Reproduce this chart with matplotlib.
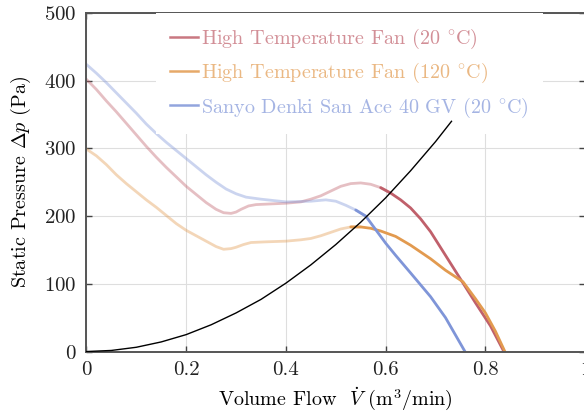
import matplotlib

matplotlib.use("Agg")
import matplotlib.pyplot as plt
import numpy as np

# Fan curves: volume flow (m^3/min) vs static pressure (Pa)
hot20_flow = [0.00, 0.02, 0.04, 0.06, 0.08, 0.10, 0.12, 0.14, 0.16, 0.18, 0.20, 0.22, 0.24,
              0.26, 0.275, 0.29, 0.30, 0.31, 0.325, 0.34, 0.37, 0.40, 0.43, 0.45, 0.47, 0.49,
              0.51, 0.53, 0.55, 0.57, 0.59, 0.61, 0.63, 0.65, 0.67, 0.69, 0.72, 0.75, 0.78,
              0.81, 0.837]
hot20_dp = [402, 387, 370, 354, 337, 320, 303, 287, 272, 258, 244, 232, 220,
            210, 205, 204, 206, 210, 215, 217, 218, 219, 221, 225, 230, 237,
            244, 248, 249, 247, 242, 234, 224, 212, 196, 177, 142, 107, 72,
            38, 0]

hot120_flow = [0.00, 0.02, 0.04, 0.06, 0.08, 0.10, 0.12, 0.14, 0.16, 0.18, 0.20, 0.22, 0.24,
               0.26, 0.275, 0.29, 0.30, 0.315, 0.33, 0.36, 0.40, 0.43, 0.45, 0.47, 0.49, 0.51,
               0.53, 0.55, 0.57, 0.59, 0.62, 0.65, 0.69, 0.72, 0.755, 0.78, 0.80, 0.82, 0.839]
hot120_dp = [299, 289, 276, 261, 248, 236, 224, 213, 201, 189, 179, 171, 163,
             155, 151, 152, 154, 158, 161, 162, 163, 165, 167, 171, 176, 181,
             184, 184, 182, 178, 170, 157, 137, 120, 103, 78, 57, 30, 0]

sanyo_flow = [0.00, 0.02, 0.04, 0.06, 0.08, 0.10, 0.12, 0.14, 0.16, 0.18, 0.20, 0.22, 0.24,
              0.26, 0.28, 0.30, 0.32, 0.35, 0.40, 0.45, 0.48, 0.50, 0.52, 0.54, 0.56, 0.58,
              0.60, 0.62, 0.65, 0.69, 0.72, 0.759]
sanyo_dp = [424, 411, 397, 382, 367, 352, 336, 322, 309, 297, 285, 273, 261,
            250, 240, 233, 228, 225, 221, 222, 224, 222, 216, 209, 200, 180,
            160, 142, 116, 81, 50, 0]

# system resistance curve
system_flow = [0.00, 0.05, 0.10, 0.15, 0.20, 0.25, 0.30, 0.35, 0.40, 0.45, 0.50, 0.55,
               0.60, 0.65, 0.70, 0.732]
system_dp = [0, 1.6, 6.3, 14.2, 25, 39.5, 57, 77, 101, 128, 158, 191, 227, 267, 310, 340]

# operating points (where each fan curve meets the system curve)
operating_flow = {"hot20": 0.607, "hot120": 0.545, "sanyo": 0.56}

x_ticks = [0, 0.2, 0.4, 0.6, 0.8, 1]
x_tick_labels = ["0", "0.2", "0.4", "0.6", "0.8", "1"]
y_ticks = [0, 100, 200, 300, 400, 500]

RED = "#c0606b"
ORANGE = "#e29a4f"
BLUE = "#7f95d8"


def set_plot_style() -> None:
    plt.rcParams.update(
        {
            "font.family": "cmr10",
            "mathtext.fontset": "cm",
            "axes.formatter.use_mathtext": True,
            "font.size": 14.5,
            "axes.linewidth": 1.4,
            "axes.edgecolor": "#555555",
            "xtick.direction": "in",
            "ytick.direction": "in",
            "xtick.top": True,
            "ytick.right": True,
            "xtick.color": "#444444",
            "ytick.color": "#444444",
            "xtick.labelcolor": "#222222",
            "ytick.labelcolor": "#222222",
            "xtick.labelsize": 15,
            "ytick.labelsize": 15,
        }
    )


def draw_fan(ax, flow, dp, v_op, color, label):
    flow = np.asarray(flow)
    dp = np.asarray(dp)
    left = flow <= v_op + 1e-9
    right = flow >= v_op - 1e-9
    # bridge the gap at the operating point
    i = np.searchsorted(flow, v_op)
    left[min(i, len(flow) - 1)] = True
    right[max(i - 1, 0)] = True
    ax.plot(flow[left], dp[left], color=color, lw=2.0, alpha=0.4, solid_capstyle="round")
    ax.plot(flow[right], dp[right], color=color, lw=2.0, solid_capstyle="round")
    ax.plot([], [], color=color, lw=1.8, alpha=0.85, label=label)


set_plot_style()
fig = plt.figure(figsize=(5.84, 4.18), dpi=100)
ax = fig.add_axes([0.148, 0.159, 0.854, 0.81])

ax.grid(True, color="#dedede", lw=0.8)
ax.set_axisbelow(True)

draw_fan(ax, hot20_flow, hot20_dp, operating_flow["hot20"], RED,
         r"High Temperature Fan (20 $^{\circ}$C)")
draw_fan(ax, hot120_flow, hot120_dp, operating_flow["hot120"], ORANGE,
         r"High Temperature Fan (120 $^{\circ}$C)")
draw_fan(ax, sanyo_flow, sanyo_dp, operating_flow["sanyo"], BLUE,
         r"Sanyo Denki San Ace 40 GV (20 $^{\circ}$C)")
# system curve sits above the legend box so its top end stays visible
ax.plot(system_flow, system_dp, color="black", lw=1.0, zorder=6)

ax.set_xlim(0, 1)
ax.set_ylim(0, 500)
ax.set_xticks(x_ticks)
ax.set_xticklabels(x_tick_labels)
ax.set_yticks(y_ticks)
ax.tick_params(length=4, width=1.0, pad=7)

ax.set_xlabel(r"Volume Flow  $\dot{V}$ (m$^3$/min)", labelpad=4)
ax.set_ylabel(r"Static Pressure $\Delta p$ (Pa)", labelpad=8)

leg = ax.legend(loc="upper left", bbox_to_anchor=(0.139, 1.0), borderaxespad=0,
                frameon=True, facecolor="white", edgecolor="none", framealpha=1.0,
                handlelength=1.4, handletextpad=0.15, labelspacing=0.5,
                borderpad=0.7, fancybox=False)
for text, color in zip(leg.get_texts(), [RED, ORANGE, BLUE]):
    text.set_color(color)
    text.set_alpha(0.7)

fig.savefig("out.png", dpi=100)
